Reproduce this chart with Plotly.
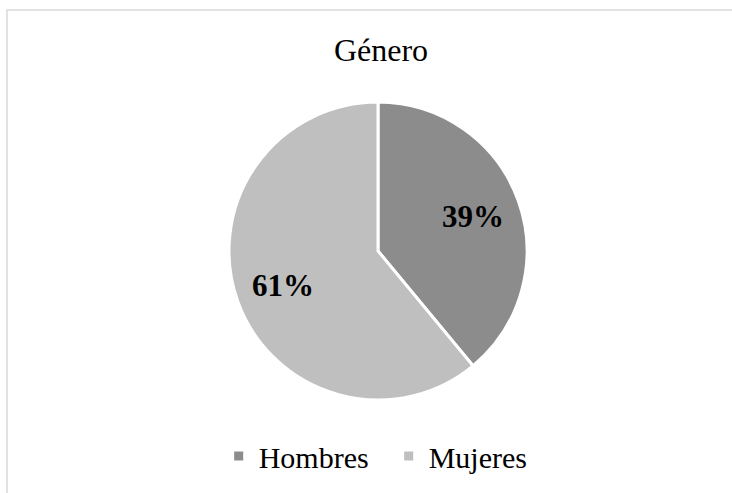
import math
import plotly.graph_objects as go

# Gender distribution
labels = ["Hombres", "Mujeres"]
values = [39, 61]
colors = ["#8c8c8c", "#bfbfbf"]

W, H = 732, 493

# Pie geometry in pixels (centre and radius)
cx, cy, radius = 378, 251, 149
label_r = 0.68  # radial position of the percentage labels

fig = go.Figure(
    go.Pie(
        labels=labels,
        values=values,
        sort=False,
        direction="clockwise",
        rotation=0,
        marker=dict(colors=colors, line=dict(color="white", width=3)),
        textinfo="none",
        domain=dict(
            x=[(cx - radius) / W, (cx + radius) / W],
            y=[1 - (cy + radius) / H, 1 - (cy - radius) / H],
        ),
        hoverinfo="label+percent",
    )
)

# Bold percentage labels placed at each slice's mid-angle
total = sum(values)
annotations = []
cum = 0.0
for v in values:
    mid = (cum + v / 2) / total * 2 * math.pi  # clockwise from 12 o'clock
    cum += v
    px = cx + label_r * radius * math.sin(mid)
    py = cy - label_r * radius * math.cos(mid)
    annotations.append(
        dict(
            x=px / W,
            y=1 - py / H,
            xref="paper",
            yref="paper",
            text="<b>{:.0f}%</b>".format(v / total * 100),
            showarrow=False,
            xanchor="center",
            yanchor="middle",
            font=dict(family="Liberation Serif", size=31, color="black"),
        )
    )

fig.update_layout(
    width=W,
    height=H,
    margin=dict(l=0, r=0, t=0, b=0),
    paper_bgcolor="white",
    plot_bgcolor="white",
    title=dict(
        text="Género",
        x=381 / W,
        xanchor="center",
        y=1 - 50 / H,
        yanchor="middle",
        font=dict(family="Liberation Serif", size=32, color="black"),
    ),
    legend=dict(
        orientation="h",
        x=0.531,
        xanchor="center",
        y=1 - 456 / H,
        yanchor="middle",
        entrywidth=125,
        entrywidthmode="pixels",
        font=dict(family="Liberation Serif", size=30, color="black"),
    ),
    annotations=annotations,
    shapes=[
        dict(
            type="rect",
            xref="paper",
            yref="paper",
            x0=7 / W,
            x1=1.02,
            y0=-0.02,
            y1=1 - 10 / H,
            line=dict(color="#d9d9d9", width=1.5),
            fillcolor="rgba(0,0,0,0)",
        )
    ],
)

fig.write_html("out.html")
